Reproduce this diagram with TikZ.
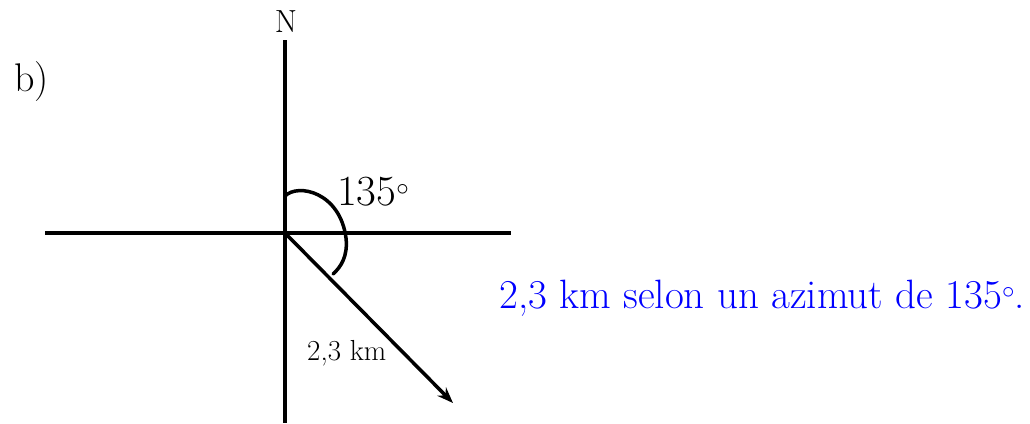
\documentclass[tikz,border=0pt]{standalone}
\usepackage{fontspec}
\usetikzlibrary{arrows.meta}
\tikzset{
  axis/.style={line width=3.5pt},
  lbl/.style={inner sep=0pt},
}
\begin{document}
\begin{tikzpicture}[x=1pt,y=-1pt]
\useasboundingbox (0,0) rectangle (1030,423);
\coordinate (O) at (285,233);
\coordinate (Ntop) at (285,40);
\coordinate (Sbot) at (285,423);
\coordinate (W) at (45,233);
\coordinate (E) at (511,233);
\coordinate (tip) at (453,403);
\draw[axis] (Ntop) -- (Sbot);
\draw[axis] (W) -- (E);
\draw[axis,-{Stealth[length=16pt,width=12pt]}] (O) -- (tip);
\draw[line width=3.5pt,line cap=round] (285,196) .. controls (298,183) and (340,192) .. (346,238) .. controls (348,256) and (341,267) .. (333,274);
\node[lbl,anchor=south] (N) at (286,33) {\fontsize{32}{34}\selectfont N};
\node[lbl,anchor=base west] (b) at (14,91) {\fontsize{40}{42}\selectfont b)};
\node[lbl,anchor=base west] (ang) at (337,205) {\fontsize{43}{45}\selectfont 135$^\circ$};
\node[lbl,anchor=base west] (d) at (307,360) {\fontsize{29}{31}\selectfont 2,3 km};
\node[lbl,anchor=base west,text=blue] (t) at (499,308) {\fontsize{41}{43}\selectfont 2,3 km selon un azimut de 135$^\circ$.};
\end{tikzpicture}
\end{document}
